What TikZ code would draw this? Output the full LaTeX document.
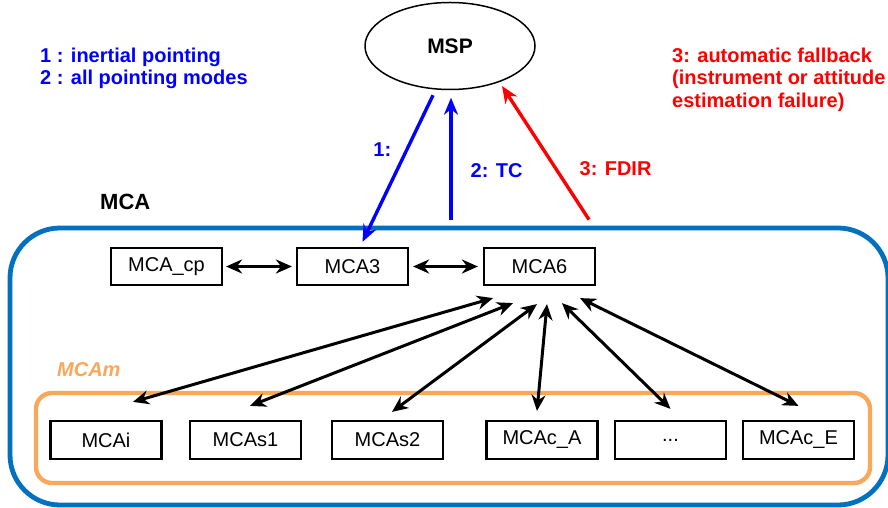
\documentclass[tikz,border=0pt]{standalone}
\usepackage{fontspec}
\setmainfont{Liberation Sans}
\usetikzlibrary{arrows.meta, shapes.geometric}
\definecolor{mcablue}{RGB}{0,112,192}
\definecolor{mcaorange}{RGB}{248,167,91}

\begin{document}
\begin{tikzpicture}[x=1pt, y=1pt,
    box/.style={rectangle, draw=black, line width=2.2pt, fill=white,
        minimum width=111pt, minimum height=37pt, inner sep=0pt,
        font=\fontsize{20}{24}\selectfont},
    link/.style={line width=3pt,
        {Stealth[length=16pt,width=14pt]}-{Stealth[length=16pt,width=14pt]}},
    cmd/.style={line width=3.4pt, -{Stealth[length=17pt,width=14pt]}},
    lbl/.style={inner sep=0pt, font=\fontsize{20}{23}\selectfont\bfseries}
]
    \useasboundingbox (0,0) rectangle (888,508);
    % frames
    \node[draw=mcablue, line width=4.8pt, rounded corners=50pt, inner sep=0pt,
        minimum width=878pt, minimum height=277pt] (mca) at (449,141.5) {};
    \node[draw=mcaorange, line width=4.4pt, rounded corners=16pt, inner sep=0pt,
        minimum width=834pt, minimum height=90pt] (mcam) at (453,70) {};
    \node[ellipse, draw=black, line width=1.5pt, inner sep=0pt,
        minimum width=170pt, minimum height=87pt,
        font=\fontsize{21}{24}\selectfont\bfseries] (msp) at (450,462) {MSP};
    % texts
    \node[lbl, text=blue, anchor=base west] (leg1) at (40,445) {1 : inertial pointing};
    \node[lbl, text=blue, anchor=base west] (leg2) at (40,423) {2 : all pointing modes};
    \node[lbl, text=red, anchor=base west] (leg3a) at (672,445) {3: automatic fallback};
    \node[lbl, text=red, anchor=base west] (leg3b) at (672,423) {(instrument or attitude};
    \node[lbl, text=red, anchor=base west] (leg3c) at (672,400) {estimation failure)};
    \node[lbl, anchor=base west, font=\fontsize{22}{24}\selectfont\bfseries] (mcalbl) at (100,298) {MCA};
    \node[lbl, text=mcaorange, anchor=base west, font=\fontsize{20}{24}\selectfont\bfseries\itshape] (mcamlbl) at (57,131) {MCAm};
    % top row
    \node[box] (mcacp) at (166.5,241.5) {MCA\_cp};
    \node[box] (mca3) at (352.5,241.5) {MCA3};
    \node[box] (mca6) at (539.5,241.5) {MCA6};
    % bottom row
    \node[box, minimum height=38pt] (mcai) at (106,68) {MCAi};
    \node[box, minimum height=38pt] (mcas1) at (245.5,68) {MCAs1};
    \node[box, minimum height=38pt] (mcas2) at (387.5,68) {MCAs2};
    \node[box, minimum height=38pt] (mcaca) at (542,68) {MCAc\_A};
    \node[box, minimum height=38pt] (dots) at (670.5,68) {...\hspace{60pt}};
    \node[box, minimum height=38pt] (mcace) at (798.5,68) {MCAc\_E};
    % links
    \draw[link, shorten <=3pt, shorten >=4pt] (mcacp) -- (mca3);
    \draw[link, shorten <=4pt, shorten >=5pt] (mca3) -- (mca6);
    \draw[link] ([xshift=-46.5pt,yshift=-12pt]mca6.south) -- ([xshift=27pt,yshift=18pt]mcai.north);
    \draw[link] ([xshift=-26.5pt,yshift=-17pt]mca6.south) -- ([xshift=4.5pt,yshift=14pt]mcas1.north);
    \draw[link] ([xshift=-2.5pt,yshift=-18pt]mca6.south) -- ([xshift=4.5pt,yshift=8pt]mcas2.north);
    \draw[link] ([xshift=7.5pt,yshift=-18pt]mca6.south) -- ([xshift=-5pt,yshift=9pt]mcaca.north);
    \draw[link] ([xshift=22.5pt,yshift=-17pt]mca6.south) -- ([yshift=11pt]dots.north);
    \draw[link] ([xshift=40.5pt,yshift=-12pt]mca6.south) -- ([yshift=14pt]mcace.north);
    % commands to MSP
    \draw[cmd, blue] ([xshift=-17pt,yshift=-5pt]msp.south) -- ([xshift=10pt,yshift=5pt]mca3.north)
        node[lbl, text=blue, pos=0.37, left=14pt] (l1) {1:};
    \draw[cmd, blue] ([xshift=2pt,yshift=6pt]mca.north) -- ([xshift=1pt,yshift=-7.5pt]msp.south)
        node[lbl, text=blue, pos=0.4, right=18pt] (l2) {2: TC};
    \draw[cmd, red] ([xshift=140pt,yshift=6pt]mca.north) -- ([xshift=52pt,yshift=-40pt]msp.center)
        node[lbl, text=red, pos=0.38, right=22pt] (l3) {3: FDIR};
\end{tikzpicture}
\end{document}
